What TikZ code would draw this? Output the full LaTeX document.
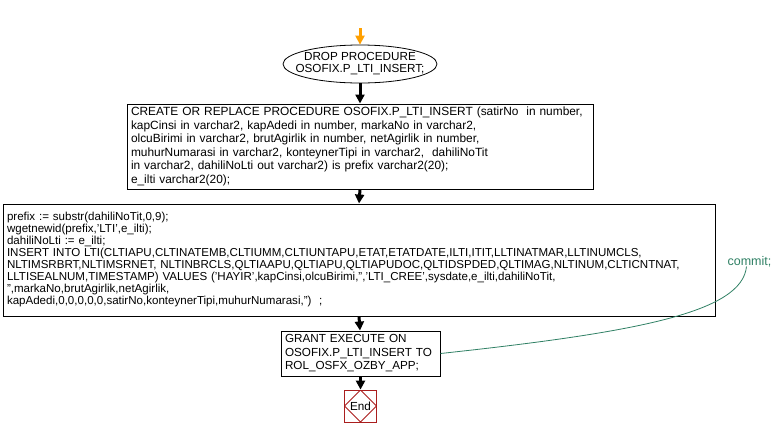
\documentclass[tikz,border=0pt]{standalone}
\usepackage{fontspec}
\setmainfont{Liberation Sans}
\usetikzlibrary{arrows.meta,shapes.geometric}
\definecolor{flowgreen}{RGB}{47,128,100}
\definecolor{endred}{RGB}{170,30,30}
\definecolor{startorange}{RGB}{255,160,0}
\begin{document}
\begin{tikzpicture}[x=1pt,y=-1pt,
  txt/.style={font=\fontsize{11.7}{13.5}\selectfont},
  procbox/.style={draw,line width=1pt,rectangle,align=left,inner xsep=4pt,inner ysep=0pt,txt},
  flowarrow/.style={line width=3pt,-{Triangle[width=9pt,length=9pt]}}
]
\useasboundingbox (0,0) rectangle (777,437);
\node[draw,ellipse,line width=0.8pt,minimum width=154pt,minimum height=38pt,inner xsep=-11pt,inner ysep=0pt,align=center,
  font=\fontsize{11.7}{12}\selectfont] (drop) at (360,64) {DROP PROCEDURE\\OSOFIX.P\_LTI\_INSERT;};
\coordinate (start) at (360,28);
\node[procbox,minimum width=466pt,minimum height=85pt,text width=458pt,
  font=\fontsize{11.9}{13.5}\selectfont] (create) at (360,146.5)
{CREATE OR REPLACE PROCEDURE OSOFIX.P\_LTI\_INSERT (satirNo\ \ in number,\\
kapCinsi in varchar2, kapAdedi in number, markaNo in varchar2,\\
olcuBirimi in varchar2, brutAgirlik in number, netAgirlik in number,\\
muhurNumarasi in varchar2, konteynerTipi in varchar2,\ \ dahiliNoTit\\
in varchar2, dahiliNoLti out varchar2) is prefix varchar2(20);\\
e\_ilti varchar2(20);};
\node[procbox,minimum width=712pt,minimum height=112pt,text width=704pt,
  font=\fontsize{11.55}{12}\selectfont] (body) at (359,260)
{prefix := substr(dahiliNoTit,0,9);\\
wgetnewid(prefix,'LTI',e\_ilti);\\
dahiliNoLti := e\_ilti;\\
INSERT INTO LTI(CLTIAPU,CLTINATEMB,CLTIUMM,CLTIUNTAPU,ETAT,ETATDATE,ILTI,ITIT,LLTINATMAR,LLTINUMCLS,\\
NLTIMSRBRT,NLTIMSRNET, NLTINBRCLS,QLTIAAPU,QLTIAPU,QLTIAPUDOC,QLTIDSPDED,QLTIMAG,NLTINUM,CLTICNTNAT,\\
LLTISEALNUM,TIMESTAMP) VALUES ('HAYIR',kapCinsi,olcuBirimi,'','LTI\_CREE',sysdate,e\_ilti,dahiliNoTit,\\
'',markaNo,brutAgirlik,netAgirlik,\\
kapAdedi,0,0,0,0,0,satirNo,konteynerTipi,muhurNumarasi,'')\ \ ;};
\node[procbox,minimum width=159pt,minimum height=45pt,text width=151pt] (grant) at (360.5,353.5)
{GRANT EXECUTE ON\\OSOFIX.P\_LTI\_INSERT TO\\ROL\_OSFX\_OZBY\_APP;};
\node[draw=endred,line width=0.8pt,rectangle,minimum size=32pt,inner sep=0pt,txt,
  path picture={\draw[endred,line width=0.8pt] (path picture bounding box.north) -- (path picture bounding box.east) -- (path picture bounding box.south) -- (path picture bounding box.west) -- cycle;}] (end) at (360.5,406) {End};
\node[text=flowgreen,inner sep=0pt,font=\fontsize{12.5}{14}\selectfont] (commit) at (749.5,262) {commit;};
\draw[flowarrow,startorange] (start) -- (drop.north);
\draw[flowarrow] (drop.south) -- (create.north);
\draw[flowarrow] (create.south) -- (body.north);
\draw[flowarrow] (body.south) -- ([xshift=-0.5pt]grant.north);
\draw[flowarrow] (grant.south) -- (end.north);
\draw[flowgreen,line width=0.8pt] (grant.east) .. controls (640,332) and (742,312) .. ([xshift=-3pt,yshift=1pt]commit.south);
\end{tikzpicture}
\end{document}
